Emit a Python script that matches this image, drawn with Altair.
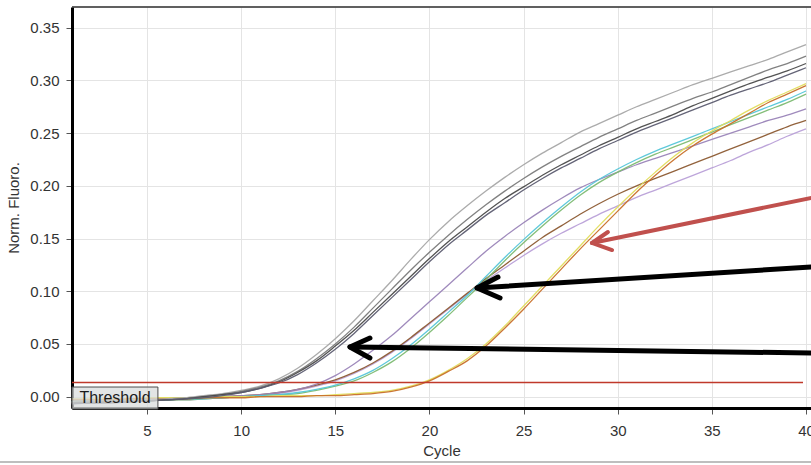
import altair as alt
import pandas as pd

# ---- amplification data (normalised fluorescence per cycle) ----
cycles = list(range(1, 41))

grey_1 = [-0.005, -0.005, -0.004, -0.004, -0.003, -0.002, -0.001, 0.001, 0.003, 0.006,
          0.010, 0.017, 0.027, 0.040, 0.055, 0.072, 0.091, 0.110, 0.130, 0.149,
          0.166, 0.181, 0.195, 0.208, 0.220, 0.231, 0.241, 0.251, 0.259, 0.267,
          0.275, 0.282, 0.289, 0.296, 0.302, 0.308, 0.314, 0.320, 0.327, 0.334]
grey_2 = [-0.006, -0.005, -0.005, -0.004, -0.004, -0.003, -0.002, 0.000, 0.002, 0.005,
          0.009, 0.015, 0.024, 0.036, 0.050, 0.066, 0.084, 0.102, 0.120, 0.137,
          0.153, 0.168, 0.182, 0.195, 0.207, 0.218, 0.228, 0.237, 0.246, 0.254,
          0.262, 0.269, 0.276, 0.283, 0.289, 0.296, 0.303, 0.310, 0.316, 0.323]
grey_3 = [-0.006, -0.006, -0.005, -0.005, -0.004, -0.003, -0.002, 0.000, 0.002, 0.004,
          0.008, 0.014, 0.023, 0.034, 0.048, 0.063, 0.080, 0.097, 0.114, 0.131,
          0.147, 0.161, 0.175, 0.188, 0.199, 0.210, 0.220, 0.229, 0.238, 0.246,
          0.254, 0.261, 0.268, 0.276, 0.283, 0.290, 0.297, 0.303, 0.309, 0.316]
grey_4 = [-0.007, -0.006, -0.006, -0.005, -0.004, -0.003, -0.002, -0.001, 0.001, 0.004,
          0.008, 0.013, 0.021, 0.032, 0.045, 0.060, 0.077, 0.094, 0.111, 0.128,
          0.144, 0.158, 0.172, 0.184, 0.196, 0.207, 0.217, 0.226, 0.235, 0.243,
          0.251, 0.258, 0.265, 0.272, 0.279, 0.286, 0.292, 0.298, 0.305, 0.312]
purple = [-0.005, -0.005, -0.004, -0.004, -0.003, -0.003, -0.002, -0.001, 0.000, 0.001,
          0.002, 0.004, 0.007, 0.012, 0.020, 0.031, 0.044, 0.058, 0.074, 0.090,
          0.106, 0.122, 0.138, 0.152, 0.165, 0.177, 0.188, 0.198, 0.206, 0.213,
          0.220, 0.226, 0.232, 0.238, 0.244, 0.250, 0.256, 0.262, 0.267, 0.273]
green = [-0.005, -0.005, -0.004, -0.004, -0.004, -0.003, -0.003, -0.002, -0.001, 0.000,
         0.001, 0.002, 0.003, 0.006, 0.010, 0.015, 0.023, 0.033, 0.046, 0.061,
         0.077, 0.094, 0.111, 0.129, 0.146, 0.162, 0.177, 0.191, 0.203, 0.213,
         0.222, 0.230, 0.237, 0.244, 0.251, 0.258, 0.265, 0.272, 0.279, 0.287]
cyan = [-0.004, -0.004, -0.004, -0.003, -0.003, -0.003, -0.002, -0.002, -0.001, 0.000,
        0.001, 0.002, 0.004, 0.007, 0.011, 0.017, 0.025, 0.036, 0.049, 0.064,
        0.080, 0.096, 0.114, 0.132, 0.149, 0.165, 0.180, 0.194, 0.206, 0.216,
        0.225, 0.233, 0.240, 0.247, 0.254, 0.261, 0.268, 0.275, 0.282, 0.290]
brown = [-0.005, -0.005, -0.004, -0.004, -0.003, -0.003, -0.002, -0.001, 0.000, 0.001,
         0.002, 0.004, 0.007, 0.011, 0.016, 0.023, 0.032, 0.043, 0.056, 0.070,
         0.084, 0.098, 0.112, 0.125, 0.138, 0.151, 0.162, 0.173, 0.183, 0.192,
         0.200, 0.207, 0.214, 0.221, 0.228, 0.235, 0.242, 0.249, 0.256, 0.262]
lilac = [-0.006, -0.005, -0.005, -0.004, -0.004, -0.003, -0.003, -0.002, -0.001, 0.000,
         0.001, 0.003, 0.006, 0.010, 0.015, 0.022, 0.031, 0.042, 0.055, 0.069,
         0.083, 0.097, 0.110, 0.122, 0.134, 0.145, 0.155, 0.164, 0.173, 0.181,
         0.189, 0.196, 0.203, 0.210, 0.217, 0.224, 0.232, 0.239, 0.247, 0.254]
yellow = [-0.002, -0.002, -0.002, -0.002, -0.001, -0.001, -0.001, -0.001, 0.000, 0.000,
          0.000, 0.001, 0.001, 0.001, 0.002, 0.003, 0.004, 0.006, 0.010, 0.016,
          0.025, 0.036, 0.050, 0.067, 0.086, 0.105, 0.124, 0.143, 0.162, 0.180,
          0.197, 0.213, 0.228, 0.241, 0.252, 0.262, 0.272, 0.281, 0.289, 0.297]
orange = [-0.003, -0.003, -0.003, -0.002, -0.002, -0.002, -0.002, -0.001, -0.001, -0.001,
          0.000, 0.000, 0.000, 0.001, 0.001, 0.002, 0.003, 0.005, 0.009, 0.015,
          0.024, 0.034, 0.048, 0.065, 0.083, 0.102, 0.121, 0.140, 0.158, 0.176,
          0.194, 0.210, 0.225, 0.238, 0.249, 0.259, 0.269, 0.279, 0.287, 0.295]

series_names = ["S01", "S02", "S03", "S04", "S05", "S06", "S07", "S08", "S09", "S10", "S11"]
series_values = [lilac, brown, purple, green, cyan, yellow, orange, grey_1, grey_2, grey_3, grey_4]
series_colors = ["#b9a0d8", "#8c5a32", "#9a84b8", "#7dbb72", "#55c6d8", "#e2dc5c",
                 "#c8702a", "#a6a6a6", "#7a7a7a", "#4a4a4a", "#5c5c70"]

threshold_value = [0.0135]
threshold_span = [1.017, 39.84]

# annotation arrows: shaft (tail -> tip) and head (barb -> tip -> barb), in data units
arrow_ids = ["red", "upper", "lower"]
arrow_colors = ["#c0504d", "#000000", "#000000"]
arrow_widths = [4.0, 5.0, 5.0]
arrow_tail_x = [41.01, 41.01, 41.01]
arrow_tail_y = [0.1912, 0.1239, 0.0413]
arrow_tip_x = [28.63, 22.53, 15.78]
arrow_tip_y = [0.1458, 0.1031, 0.0471]
arrow_barb1_x = [29.48, 23.64, 16.84]
arrow_barb1_y = [0.1562, 0.1135, 0.0557]
arrow_barb2_x = [29.70, 23.75, 16.84]
arrow_barb2_y = [0.1391, 0.0936, 0.0367]

label_box_x = [1.017, 5.58]
label_box_y = [-0.0117, 0.0092]
label_text = "Threshold"

x_domain = [1.017, 40.265]
y_domain = [-0.0107, 0.3696]
x_ticks = [5, 10, 15, 20, 25, 30, 35, 40]
y_ticks = [0.0, 0.05, 0.10, 0.15, 0.20, 0.25, 0.30, 0.35]

FONT = "Liberation Sans"

# ---- tables ----
curve_rows = []
for name, col, vals in zip(series_names, series_colors, series_values):
    for c, v in zip(cycles, vals):
        curve_rows.append({"series": name, "col": col, "cycle": c, "fluoro": v})
curves = pd.DataFrame(curve_rows)

arrow_rows = []
for i, aid in enumerate(arrow_ids):
    pts = [
        ("shaft", 0, arrow_tail_x[i], arrow_tail_y[i]),
        ("shaft", 1, arrow_tip_x[i], arrow_tip_y[i]),
        ("head", 0, arrow_barb1_x[i], arrow_barb1_y[i]),
        ("head", 1, arrow_tip_x[i], arrow_tip_y[i]),
        ("head", 2, arrow_barb2_x[i], arrow_barb2_y[i]),
    ]
    for part, k, x, y in pts:
        arrow_rows.append({"seg": aid + "-" + part, "col": arrow_colors[i],
                           "w": arrow_widths[i], "k": k, "cx": x, "cy": y})
arrows = pd.DataFrame(arrow_rows)

thr = pd.DataFrame({"x": [threshold_span[0]], "x2": [threshold_span[1]], "y": threshold_value})
box = pd.DataFrame({"x": [label_box_x[0]], "x2": [label_box_x[1]],
                    "y": [label_box_y[0]], "y2": [label_box_y[1]]})
lab = pd.DataFrame({"x": [(label_box_x[0] + label_box_x[1]) / 2],
                    "y": [(label_box_y[0] + label_box_y[1]) / 2], "t": [label_text]})

xs = alt.Scale(domain=x_domain, nice=False, zero=False)
ys = alt.Scale(domain=y_domain, nice=False, zero=False)

x_axis = alt.Axis(values=x_ticks, title="Cycle", grid=True, format="d")
y_axis = alt.Axis(values=y_ticks, title="Norm. Fluoro.", grid=True, format=".2f")

lines = alt.Chart(curves).mark_line(strokeWidth=1.3, interpolate="monotone", opacity=0.95).encode(
    x=alt.X("cycle:Q", scale=xs, axis=x_axis),
    y=alt.Y("fluoro:Q", scale=ys, axis=y_axis),
    detail="series:N",
    color=alt.Color("col:N", scale=None),
)

threshold = alt.Chart(thr).mark_rule(color="#c0392b", strokeWidth=1.5).encode(
    x="x:Q", x2="x2:Q", y="y:Q"
)

label_bg = alt.Chart(box).mark_rect(fill="#d9dcdc", fillOpacity=0.75, stroke="#4d4d4d", strokeWidth=1).encode(
    x="x:Q", x2="x2:Q", y="y:Q", y2="y2:Q"
)
label = alt.Chart(lab).mark_text(font=FONT, fontSize=16, color="#1a1a1a", align="center", baseline="middle").encode(
    x="x:Q", y="y:Q", text="t:N"
)

arrow_layer = alt.Chart(arrows).mark_line(strokeCap="round", strokeJoin="round", clip=False).encode(
    x="cx:Q", y="cy:Q", order="k:Q", detail="seg:N",
    color=alt.Color("col:N", scale=None),
    strokeWidth=alt.StrokeWidth("w:Q", scale=None),
)

# plot frame: thin top border and the light outer border at the bottom of the page
top_border = alt.Chart(thr).mark_rule(color="#2b2b2b", strokeWidth=1.5).encode(
    x=alt.value(0), x2=alt.value(760), y=alt.value(0)
)
page_border = alt.Chart(thr).mark_rule(color="#a8a8a8", strokeWidth=1.5).encode(
    x=alt.value(-72), x2=alt.value(760), y=alt.value(455)
)

chart = alt.layer(
    lines, threshold, label_bg, label, arrow_layer, top_border, page_border
).properties(
    width=739, height=401,
    autosize=alt.AutoSizeParams(type="none"),
    padding={"left": 72, "top": 7, "right": 0, "bottom": 57},
    background="white",
).configure_view(stroke=None).configure_axis(
    labelFont=FONT, titleFont=FONT, labelFontSize=15, titleFontSize=15,
    labelColor="#333333", titleColor="#333333", titleFontWeight="normal",
    domainColor="#000000", domainWidth=3, tickColor="#555555", tickSize=6,
    gridColor="#e4e4e4", gridWidth=1, zindex=1,
).configure_axisX(labelPadding=9, titlePadding=5).configure_axisY(labelPadding=7, titlePadding=8)

chart.save("out.html", embed_options={"renderer": "svg", "actions": False})
